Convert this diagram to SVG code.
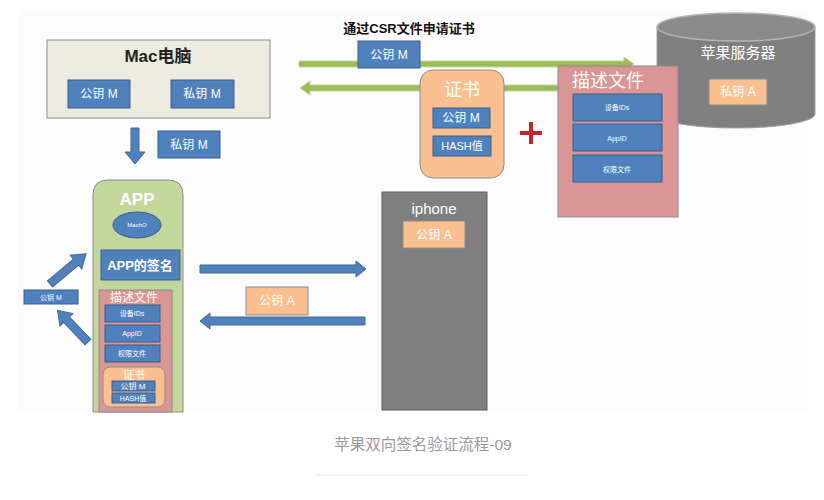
<svg xmlns="http://www.w3.org/2000/svg" width="824" height="500" viewBox="0 0 824 500">
<defs>
<style>
text{font-family:"Liberation Sans","Noto Sans CJK SC",sans-serif;text-anchor:middle;dominant-baseline:central}
.blue{fill:#4f81bd;stroke:#3a5f8f;stroke-width:1}
.org{fill:#fac090;stroke:#8c8c8c;stroke-width:1}
.pink{fill:#d99694;stroke:#8c8c8c;stroke-width:1}
.w{fill:#ffffff}
.arrB{fill:#4f81bd;stroke:#42699a;stroke-width:1}
.arrG{fill:#9bbb59;stroke:#c3d69b;stroke-width:1}
</style>
</defs>
<rect x="0" y="0" width="824" height="500" fill="#ffffff"/>
<rect x="18" y="10" width="790" height="402" fill="#fcfcfc"/>

<g id="connectors">
  <polygon class="arrG" points="299,61 624,61 624,57 634,64 624,71 624,67 299,67"/>
  <polygon class="arrG" points="560,85 310,85 310,81 300,88 310,95 310,91 560,91"/>
  <polygon class="arrB" points="131,128 139,128 139,152 145,152 135,164 125,152 131,152"/>
  <polygon class="arrB" points="200,265 356,265 356,261 366,269 356,277 356,273 200,273"/>
  <polygon class="arrB" points="365,317 210,317 210,313 200,321 210,329 210,325 365,325"/>
  <g transform="translate(50,284) rotate(-40)"><polygon class="arrB" points="0,-4 34,-4 34,-9 47,0 34,9 34,4 0,4"/></g>
  <g transform="translate(88,342) rotate(-134)"><polygon class="arrB" points="0,-4 31,-4 31,-9 44,0 31,9 31,4 0,4"/></g>
</g>

<g id="csr-label">
  <text x="409" y="28" font-size="13" font-weight="bold" fill="#111">通过CSR文件申请证书</text>
  <rect class="blue" x="358" y="41" width="62" height="27"/>
  <text class="w" x="389" y="55" font-size="12">公钥 M</text>
</g>

<g id="mac">
  <rect x="47" y="40" width="223" height="78" fill="#eeece1" stroke="#8c8c8c" stroke-width="1"/>
  <text x="158" y="56" font-size="17" font-weight="bold" fill="#222">Mac电脑</text>
  <rect class="blue" x="68" y="80" width="62" height="28"/>
  <text class="w" x="99" y="94" font-size="12">公钥 M</text>
  <rect class="blue" x="171" y="80" width="63" height="28"/>
  <text class="w" x="202" y="94" font-size="12">私钥 M</text>
</g>

<g id="private-key-label">
  <rect class="blue" x="158" y="131" width="62" height="27"/>
  <text class="w" x="189" y="145" font-size="12">私钥 M</text>
</g>

<g id="cert">
  <rect class="org" x="420" y="70" width="84" height="108" rx="13"/>
  <text class="w" x="462" y="90" font-size="18">证书</text>
  <rect class="blue" x="433" y="108" width="57" height="20"/>
  <text class="w" x="461" y="118" font-size="12">公钥 M</text>
  <rect class="blue" x="433" y="136" width="58" height="20"/>
  <text class="w" x="462" y="146" font-size="11">HASH值</text>
</g>

<g id="plus">
  <rect x="520" y="131" width="22" height="4" fill="#c0282d"/>
  <rect x="529" y="122" width="4" height="22" fill="#c0282d"/>
</g>

<g id="server">
  <path d="M657,27 L657,114 A79,14 0 0 0 815,114 L815,27 Z" fill="#7f7f7f" stroke="#a0a0a0" stroke-width="1"/>
  <ellipse cx="736" cy="27" rx="79" ry="14" fill="#8a8a8a" stroke="#b5b5b5" stroke-width="1.5"/>
  <text class="w" x="738" y="52" font-size="15">苹果服务器</text>
  <rect class="org" x="709" y="79" width="58" height="26"/>
  <text class="w" x="738" y="92" font-size="12">私钥 A</text>
</g>

<g id="profile">
  <rect class="pink" x="558" y="66" width="120" height="151"/>
  <text class="w" x="608" y="81" font-size="18">描述文件</text>
  <rect class="blue" x="573" y="94" width="89" height="27"/>
  <text class="w" x="617" y="107" font-size="7">设备IDs</text>
  <rect class="blue" x="573" y="124" width="89" height="27"/>
  <text class="w" x="617" y="138" font-size="7">AppID</text>
  <rect class="blue" x="573" y="155" width="89" height="27"/>
  <text class="w" x="617" y="169" font-size="7">权限文件</text>
</g>

<g id="app">
  <path d="M108,180 L168,180 Q183,180 183,195 L183,412 L93,412 L93,195 Q93,180 108,180 Z" fill="#c3d69b" stroke="#8c8c8c" stroke-width="1"/>
  <text class="w" x="137" y="199" font-size="17" font-weight="bold">APP</text>
  <ellipse class="blue" cx="137" cy="225" rx="24" ry="13"/>
  <text class="w" x="137" y="225" font-size="6">MachO</text>
  <rect class="blue" x="101" y="250" width="79" height="30"/>
  <text class="w" x="140" y="265" font-size="13" font-weight="bold">APP的签名</text>
  <rect class="pink" x="99" y="290" width="73" height="122"/>
  <text class="w" x="134" y="298" font-size="12">描述文件</text>
  <rect class="blue" x="105" y="305" width="55" height="17"/>
  <text class="w" x="132" y="313" font-size="7">设备IDs</text>
  <rect class="blue" x="105" y="325" width="55" height="17"/>
  <text class="w" x="132" y="333" font-size="7">AppID</text>
  <rect class="blue" x="105" y="345" width="55" height="17"/>
  <text class="w" x="132" y="353" font-size="7">权限文件</text>
  <rect class="org" x="103" y="367" width="62" height="40" rx="7"/>
  <text class="w" x="134" y="375" font-size="11">证书</text>
  <rect class="blue" x="112" y="381" width="43" height="10"/>
  <text class="w" x="133" y="386" font-size="8">公钥 M</text>
  <rect class="blue" x="112" y="393" width="43" height="10"/>
  <text class="w" x="133" y="398" font-size="7">HASH值</text>
</g>

<g id="left-key">
  <rect class="blue" x="24" y="290" width="54" height="14"/>
  <text class="w" x="51" y="297" font-size="7">公钥 M</text>
</g>

<g id="pubA-label">
  <rect class="org" x="246" y="287" width="62" height="28"/>
  <text class="w" x="277" y="301" font-size="12">公钥 A</text>
</g>

<g id="iphone">
  <rect x="382" y="192" width="105" height="218" fill="#7f7f7f" stroke="#5f5f5f" stroke-width="1"/>
  <text class="w" x="434" y="208" font-size="15">iphone</text>
  <rect class="org" x="403" y="221" width="62" height="27"/>
  <text class="w" x="434" y="235" font-size="12">公钥 A</text>
</g>

<g id="caption">
  <text x="423" y="444" font-size="15.5" fill="#999999">苹果双向签名验证流程-09</text>
  <line x1="316" y1="475" x2="528" y2="475" stroke="#e6e6e6" stroke-width="1"/>
</g>
</svg>
